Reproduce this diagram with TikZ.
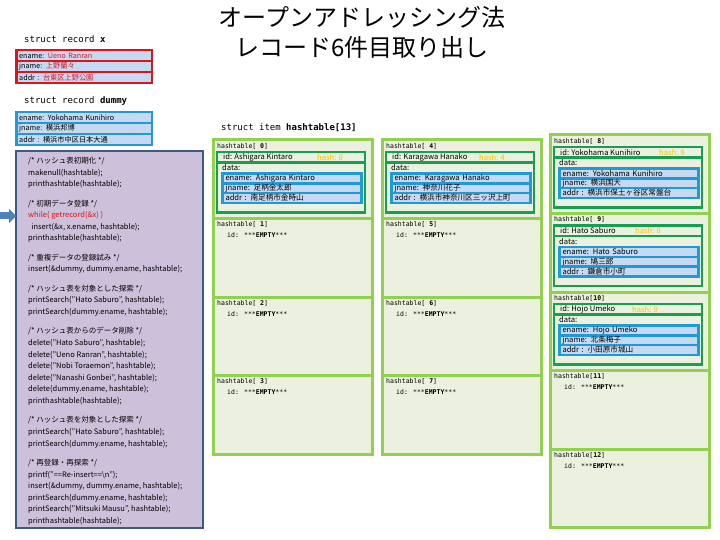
\documentclass[tikz,border=0pt]{standalone}
\usepackage{fontspec}
\setmainfont{Noto Sans CJK JP}
\newfontfamily\codemono{DejaVu Sans Mono}
\usetikzlibrary{positioning,arrows.meta}

\definecolor{slotgreen}{RGB}{146,208,80}
\definecolor{slotfill}{RGB}{235,241,222}
\definecolor{itemgreen}{RGB}{20,160,80}
\definecolor{recblue}{RGB}{30,155,215}
\definecolor{rowfill}{RGB}{198,217,241}
\definecolor{recred}{RGB}{220,20,30}
\definecolor{codefill}{RGB}{204,192,218}
\definecolor{codeline}{RGB}{60,90,130}
\definecolor{hashcol}{RGB}{255,192,0}
\definecolor{arrowblue}{RGB}{79,129,189}

\tikzset{
  structhead/.style={font=\codemono\fontsize{9}{10}\selectfont, inner sep=0pt, anchor=west},
  slot/.style={draw=slotgreen, fill=slotfill, line width=3pt, minimum width=159pt,
    minimum height=78.5pt, anchor=north west, inner sep=0pt, outer sep=0pt},
  slotlabel/.style={font=\codemono\fontsize{6.5}{7}\selectfont, inner sep=0pt, anchor=west},
  itembox/.style={draw=itemgreen, fill=slotfill, line width=2.5pt, minimum width=148pt,
    anchor=north west, inner sep=0pt, outer sep=0pt},
  itemtext/.style={font=\fontsize{7.6}{8}\selectfont, inner sep=0pt, anchor=west},
  recrow/.style n args={3}{draw=#1, fill=rowfill, line width=2.5pt, outer sep=0pt,
    inner ysep=0pt, inner xsep=3pt, text width=#2-6pt, minimum height=#3, align=left,
    font=\fontsize{7.2}{8}\selectfont},
  codebox/.style={draw=codeline, fill=codefill, line width=2pt, minimum width=187pt,
    minimum height=377pt, anchor=north west, outer sep=0pt},
  codetext/.style={font=\fontsize{7.5}{11.6}\selectfont, align=left, inner sep=0pt, anchor=north west}
}

% one occupied slot: index, x, y, hash offset, hash, ename, jname, addr
\newcommand{\fullslot}[8]{%
  \node[slot] (s#1) at (#2,#3) {};
  \node[slotlabel] (s#1l) at ([xshift=4pt,yshift=-6pt]s#1.north west) {hashtable[\ifnum#1<10\ \fi\textbf{#1}]};
  \node[itembox, minimum height=10.5pt] (s#1id) at ([xshift=4pt,yshift=-12pt]s#1.north west) {};
  \node[itembox, minimum height=50pt] (s#1data) at ([xshift=4pt,yshift=-22.5pt]s#1.north west) {};
  \node[itemtext] (s#1name) at ([xshift=6pt]s#1id.west) {id: #6};
  \node[itemtext, text=hashcol] (s#1hash) at ([xshift=#4pt]s#1id.west) {hash: #5};
  \node[itemtext] (s#1dl) at ([xshift=5pt,yshift=-5.5pt]s#1data.north west) {data:};
  \node[recrow={recblue}{139pt}{9.8pt}, font=\fontsize{7.6}{8}\selectfont] (s#1e)
    at ([xshift=1pt,yshift=-16pt]s#1data.north) {ename: #6};
  \node[recrow={recblue}{139pt}{9.8pt}, font=\fontsize{7.6}{8}\selectfont, below=0pt of s#1e] (s#1j) {jname: #7};
  \node[recrow={recblue}{139pt}{9.8pt}, font=\fontsize{7.6}{8}\selectfont, below=0pt of s#1j] (s#1a) {addr : #8};
}
% one empty slot: index, x, y
\newcommand{\emptyslot}[3]{%
  \node[slot] (s#1) at (#2,#3) {};
  \node[slotlabel] (s#1l) at ([xshift=4pt,yshift=-6pt]s#1.north west) {hashtable[\ifnum#1<10\ \fi\textbf{#1}]};
  \node[slotlabel] (s#1id) at ([xshift=14pt,yshift=-17pt]s#1.north west) {id: ***\textbf{EMPTY}***};
}

\begin{document}
\begin{tikzpicture}[x=1pt, y=-1pt]
  \useasboundingbox (0,0) rectangle (720,540);
  \fill[white] (0,0) rectangle (720,540);

  % title
  \node[font=\fontsize{24}{30}\selectfont, align=center] (title) at (362,32)
    {オープンアドレッシング法\\レコード6件目取り出し};

  % struct record x
  \node[structhead] (xhead) at (24,39) {struct record \textbf{x}};
  \node[recrow={recred}{135.5pt}{11pt}] (xe) at (84,55.75) {ename: \textcolor{recred}{Ueno Ranran}};
  \node[recrow={recred}{135.5pt}{11pt}, below=0pt of xe] (xj) {jname: \textcolor{recred}{上野蘭々}};
  \node[recrow={recred}{135.5pt}{11pt}, below=0pt of xj] (xa) {addr : \textcolor{recred}{台東区上野公園}};

  % struct record dummy
  \node[structhead] (dummyhead) at (24,101) {struct record \textbf{dummy}};
  \node[recrow={recblue}{135.5pt}{11pt}] (de) at (84,117.75) {ename: Yokohama Kunihiro};
  \node[recrow={recblue}{135.5pt}{11pt}, below=0pt of de] (dj) {jname: 横浜邦博};
  \node[recrow={recblue}{135.5pt}{11pt}, below=0pt of dj] (da) {addr : 横浜市中区日本大通};

  % main program
  \node[codebox] (codebox) at (16,151) {};
  \node[codetext] (code) at (28,157) {%
    /* ハッシュ表初期化 */\\
    makenull(hashtable);\\
    printhashtable(hashtable);\\[7.8pt]
    /* 初期データ登録 */\\
    \textcolor{recred}{while( getrecord(\&x) )}\\
    \ \ insert(\&x, x.ename, hashtable);\\
    printhashtable(hashtable);\\[7.8pt]
    /* 重複データの登録試み */\\
    insert(\&dummy, dummy.ename, hashtable);\\[7.8pt]
    /* ハッシュ表を対象とした探索 */\\
    printSearch("Hato Saburo", hashtable);\\
    printSearch(dummy.ename, hashtable);\\[7.8pt]
    /* ハッシュ表からのデータ削除 */\\
    delete("Hato Saburo", hashtable);\\
    delete("Ueno Ranran", hashtable);\\
    delete("Nobi Toraemon", hashtable);\\
    delete("Nanashi Gonbei", hashtable);\\
    delete(dummy.ename, hashtable);\\
    printhashtable(hashtable);\\[7.8pt]
    /* ハッシュ表を対象とした探索 */\\
    printSearch("Hato Saburo", hashtable);\\
    printSearch(dummy.ename, hashtable);\\[7.8pt]
    /* 再登録・再探索 */\\
    printf("==Re-insert==\textbackslash n");\\
    insert(\&dummy, dummy.ename, hashtable);\\
    printSearch(dummy.ename, hashtable);\\
    printSearch("Mitsuki Mausu", hashtable);\\
    printhashtable(hashtable);};

  % current line marker
  \coordinate (marktail) at (0,216);
  \draw[arrowblue, line width=7pt, -{Triangle[length=7pt, width=14pt]}]
    (marktail) -- (marktail -| codebox.west);

  % hash table
  \node[structhead] (itemhead) at (221,128) {struct item \textbf{hashtable[13]}};

  % column 1
  \fullslot{0}{213}{140}{100}{0}{Ashigara Kintaro}{足柄金太郎}{南足柄市金時山}
  \foreach \i/\y in {1/218.5, 2/297, 3/375.5} {\emptyslot{\i}{213}{\y}}

  % column 2
  \fullslot{4}{382}{140}{93}{4}{Karagawa Hanako}{神奈川花子}{横浜市神奈川区三ッ沢上町}
  \foreach \i/\y in {5/218.5, 6/297, 7/375.5} {\emptyslot{\i}{382}{\y}}

  % column 3
  \fullslot{8}{550}{135}{105}{8}{Yokohama Kunihiro}{横浜国大}{横浜市保土ヶ谷区常盤台}
  \fullslot{9}{550}{213.5}{81}{8}{Hato Saburo}{鳩三郎}{鎌倉市小町}
  \fullslot{10}{550}{292}{78}{9}{Hojo Umeko}{北条梅子}{小田原市城山}
  \foreach \i/\y in {11/370.5, 12/449} {\emptyslot{\i}{550}{\y}}
\end{tikzpicture}
\end{document}
